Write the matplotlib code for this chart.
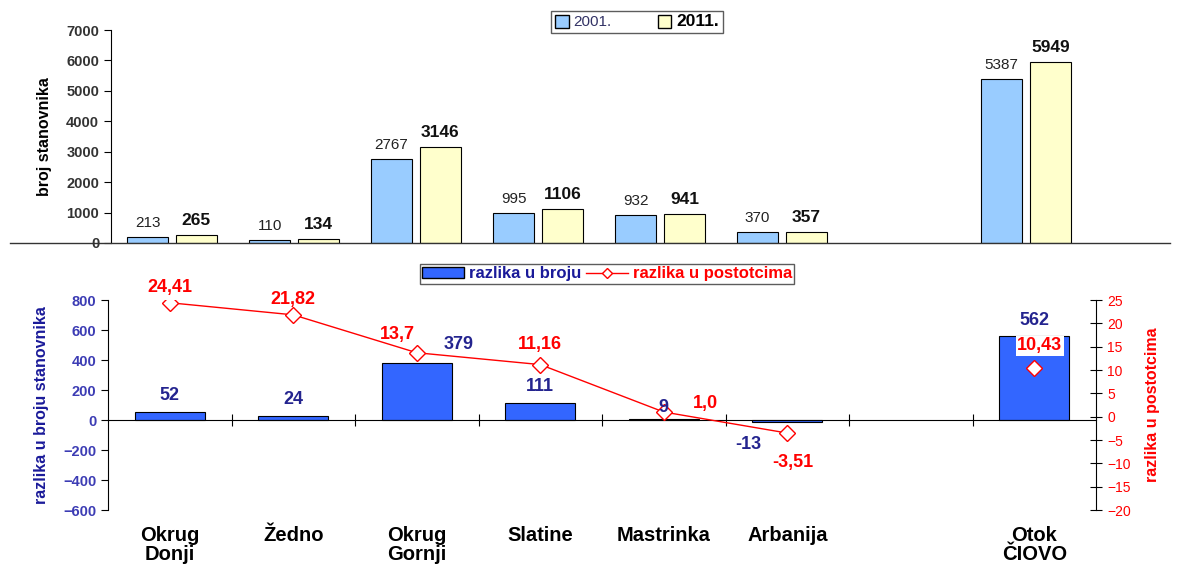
import numpy as np
import matplotlib
matplotlib.use("Agg")
import matplotlib.pyplot as plt
import matplotlib.patches as mpatches
from matplotlib.lines import Line2D

plt.rcParams["font.family"] = ["Liberation Sans", "DejaVu Sans"]

categories = ["Okrug\nDonji", "Žedno", "Okrug\nGornji", "Slatine",
              "Mastrinka", "Arbanija", "", "Otok\nČIOVO"]
pop_2001 = [213, 110, 2767, 995, 932, 370, np.nan, 5387]
pop_2011 = [265, 134, 3146, 1106, 941, 357, np.nan, 5949]
diff_abs = [52, 24, 379, 111, 9, -13, np.nan, 562]
diff_pct = [24.41, 21.82, 13.7, 11.16, 1.0, -3.51, np.nan, 10.43]
pct_labels = ["24,41", "21,82", "13,7", "11,16", "1,0", "-3,51", "", "10,43"]

# label offsets (points) for the lower chart
abs_off = [(0, 6), (0, 6), (30, 7), (0, 6), (0, 2), (-28, -24), None, (0, 5)]
pct_off = [(0, 5), (0, 5), (-14, 7), (0, 8), (30, 0), (4, -27), None, (4, 10)]

C01, C11 = "#99ccff", "#ffffcc"
BLUE, NAVY, RED = "#3366ff", "#24248f", "#ff0000"
narrow = ["Liberation Sans Narrow", "Liberation Sans", "DejaVu Sans"]

fig = plt.figure(figsize=(11.8, 5.7), dpi=100)
W, H = 1180, 570
x = np.arange(len(categories))

# ---------- upper chart ----------
ax1 = fig.add_axes([111 / W, 1 - 243 / H, (1087 - 111) / W, (243 - 30) / H])
bw = 0.33
ax1.bar(x - 0.2, pop_2001, bw, color=C01, edgecolor="black", linewidth=0.8, label="2001.")
ax1.bar(x + 0.2, pop_2011, bw, color=C11, edgecolor="black", linewidth=0.8, label="2011.")
for i in range(len(x)):
    if np.isnan(pop_2001[i]):
        continue
    ax1.annotate(f"{pop_2001[i]:.0f}", (x[i] - 0.2, pop_2001[i]), xytext=(0, 5),
                 textcoords="offset points", ha="center", va="bottom", fontsize=11, color="#222222")
    ax1.annotate(f"{pop_2011[i]:.0f}", (x[i] + 0.2, pop_2011[i]), xytext=(0, 5),
                 textcoords="offset points", ha="center", va="bottom", fontsize=12.5,
                 fontweight="bold", color="#111111")
ax1.set_xlim(-0.5, 7.5)
ax1.set_ylim(0, 7000)
ax1.set_yticks(range(0, 7001, 1000))
ax1.tick_params(axis="y", direction="out", length=5, labelsize=10.5, labelcolor="#333333")
for lab in ax1.get_yticklabels():
    lab.set_fontweight("bold")
ax1.set_xticks([])
for s in ["top", "right", "bottom"]:
    ax1.spines[s].set_visible(False)
ax1.set_ylabel("broj stanovnika", family=narrow, fontweight="bold", fontsize=11.5, labelpad=10)
fig.add_artist(Line2D([10 / W, 1170 / W], [1 - 243 / H] * 2, color="#333333", lw=1))

leg1 = fig.legend(handles=[mpatches.Patch(fc=C01, ec="black", label="2001."),
                           mpatches.Patch(fc=C11, ec="black", label="2011.")],
                  loc="center", bbox_to_anchor=(637 / W, 1 - 22 / H), ncol=2,
                  fontsize=11, frameon=True, fancybox=False, edgecolor="#333333",
                  handlelength=0.9, handleheight=0.9, columnspacing=3.0, handletextpad=0.3,
                  borderpad=0.25, borderaxespad=0)
leg1.get_texts()[0].set_color("#333366")
leg1.get_texts()[1].set_fontweight("bold")
leg1.get_texts()[1].set_fontsize(12.5)

# ---------- lower chart ----------
ax2 = fig.add_axes([108 / W, 1 - 510 / H, (1096 - 108) / W, (510 - 300) / H])
ax2.bar(x, diff_abs, 0.57, color=BLUE, edgecolor="black", linewidth=0.8)
ax2.set_xlim(-0.5, 7.5)
ax2.set_ylim(-600, 800)
ax2.set_yticks(range(-600, 801, 200))
ax2.tick_params(axis="y", direction="out", length=5, labelsize=10.5, labelcolor="#3c3cb4")
for lab in ax2.get_yticklabels():
    lab.set_fontweight("bold")
ax2.spines["top"].set_visible(False)
ax2.spines["right"].set_visible(False)
ax2.spines["bottom"].set_position(("data", 0))
ax2.set_xticks(np.arange(0.5, 7.5, 1))
ax2.set_xticklabels([])
ax2.tick_params(axis="x", direction="inout", length=9)
ax2.set_ylabel("razlika u broju stanovnika", family=narrow, fontweight="bold",
               fontsize=11.5, color="#1a1a99", labelpad=10)
for i in range(len(x)):
    if np.isnan(diff_abs[i]):
        continue
    ax2.text(x[i], -0.075, categories[i], transform=ax2.get_xaxis_transform(),
             ha="center", va="top", fontsize=14.5, fontweight="bold", linespacing=1.05)

ax3 = ax2.twinx()
ax3.plot(x, diff_pct, color=RED, lw=1, marker="D", ms=8, mfc="white", mec=RED, mew=1)
ax3.set_ylim(-20, 25)
ax3.set_yticks(range(-20, 26, 5))
ax3.tick_params(axis="y", direction="inout", length=9, labelsize=10, labelcolor=RED)
for s in ["top", "left", "bottom"]:
    ax3.spines[s].set_visible(False)
ax3.set_ylabel("razlika u postotcima", family=narrow, fontweight="bold", fontsize=11.5,
               color=RED, labelpad=10)
for i in range(len(x)):
    if np.isnan(diff_pct[i]):
        continue
    bbox = dict(fc="white", ec="none", pad=1) if i == 7 else None
    ax3.annotate(pct_labels[i], (x[i], diff_pct[i]), xytext=pct_off[i],
                 textcoords="offset points", ha="center", va="bottom", fontsize=13,
                 fontweight="bold", color=RED, bbox=bbox)
    # bar value labels drawn on the top axes so they sit over the markers
    ax3.annotate(f"{diff_abs[i]:.0f}", (x[i], max(diff_abs[i], 0)), xycoords=ax2.transData,
                 xytext=abs_off[i], textcoords="offset points", ha="center", va="bottom",
                 fontsize=13, fontweight="bold", color=NAVY, zorder=5)

leg2 = fig.legend(handles=[mpatches.Patch(fc=BLUE, ec="black", label="razlika u broju"),
                           Line2D([], [], color=RED, lw=1, marker="D", ms=5, mfc="white",
                                  mec=RED, label="razlika u postotcima")],
                  loc="center", bbox_to_anchor=(607 / W, 1 - 274 / H), ncol=2,
                  fontsize=12, frameon=True, fancybox=False, edgecolor="#333333",
                  handlelength=2.5, handleheight=0.6, columnspacing=0.3, handletextpad=0.3,
                  borderpad=0.15, borderaxespad=0)
leg2.get_texts()[0].set_color("#1a1a99")
leg2.get_texts()[1].set_color(RED)
for t in leg2.get_texts():
    t.set_fontweight("bold")

fig.savefig("out.png", dpi=100)
